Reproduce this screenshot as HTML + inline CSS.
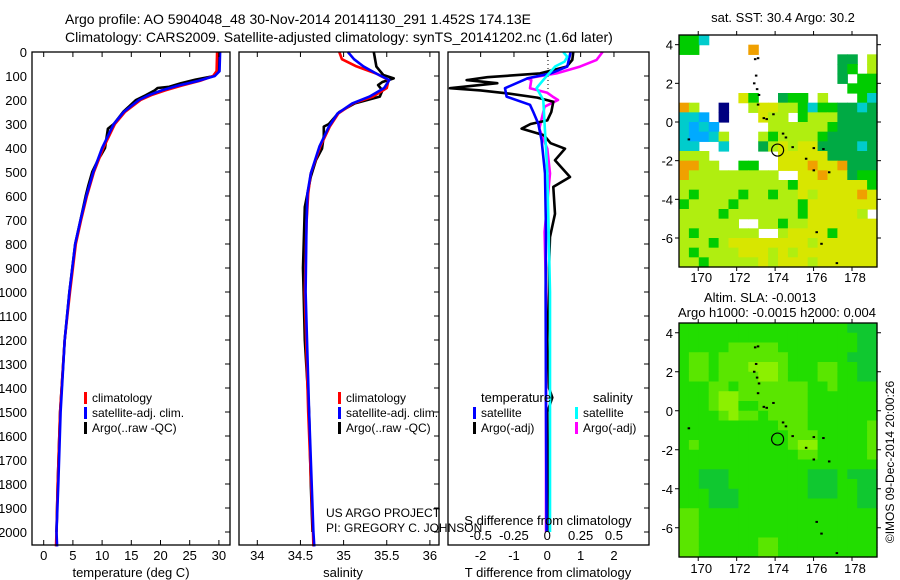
<!DOCTYPE html>
<html><head><meta charset="utf-8">
<style>
html,body{margin:0;padding:0;background:#fff;}
svg{display:block;font-family:"Liberation Sans",sans-serif;}
text{fill:#000;}
</style></head>
<body>
<svg id="chart" width="900" height="580" viewBox="0 0 900 580" xmlns="http://www.w3.org/2000/svg">
<text x="65" y="24" font-size="14">Argo profile: AO 5904048_48 30-Nov-2014 20141130_291 1.452S 174.13E</text>
<text x="65" y="42" font-size="14">Climatology: CARS2009. Satellite-adjusted climatology: synTS_20141202.nc (1.6d later)</text>
<g id="p1"></g>
<g id="p2"></g>
<g id="p3"></g>
<g id="m1"></g>
<g id="m2"></g>
<text x="783" y="22" font-size="13" text-anchor="middle">sat. SST: 30.4  Argo: 30.2</text>
<text x="760" y="302" font-size="13" text-anchor="middle">Altim. SLA: -0.0013</text>
<text x="777" y="317" font-size="13" text-anchor="middle">Argo h1000: -0.0015 h2000: 0.004</text>
<text transform="translate(894,462) rotate(-90)" font-size="12" text-anchor="middle">©IMOS 09-Dec-2014 20:00:26</text>
<text x="326" y="517" font-size="12">US ARGO PROJECT</text>
<text x="326" y="532" font-size="12">PI: GREGORY C. JOHNSON</text>
</svg>
<script>
// ---------- profile data ----------
const tClimDepth=[0,80,100,120,140,160,180,200,250,300,400,500,600,700,800,900,1000,1200,1500,1800,2000,2060];
const tClimVal=[29.7,29.6,29.0,26.8,23.6,20.8,18.4,16.6,13.9,12.2,10.2,8.6,7.4,6.4,5.5,5.0,4.5,3.6,2.8,2.4,2.2,2.1];
const tSatVal=[30.2,30.1,29.3,26.5,23.0,20.2,18.0,16.3,13.7,12.0,10.0,8.5,7.3,6.3,5.4,4.9,4.4,3.6,2.9,2.5,2.2,2.3];
const tArgoDepth=[0,80,100,115,130,145,150,160,180,200,250,300,320,350,400,430,450,500,560,600,700,800,900,1000,1200,1500,1800,2000];
const tArgoVal=[30.0,29.9,29.2,26.0,23.5,21.5,19.5,19.0,17.5,15.8,13.6,12.0,11.0,10.8,10.5,9.8,9.3,8.3,7.6,7.2,6.3,5.4,4.9,4.4,3.6,2.8,2.4,2.2];
const sClimDepth=[0,30,60,90,117,150,186,214,256,311,394,506,590,715,1000,1500,2000,2060];
const sClimVal=[34.95,34.98,35.15,35.38,35.52,35.5,35.34,35.11,34.94,34.84,34.73,34.62,34.59,34.57,34.55,34.59,34.645,34.65];
const sSatVal=[35.05,35.12,35.23,35.38,35.53,35.47,35.3,35.1,34.93,34.83,34.72,34.62,34.58,34.57,34.56,34.6,34.65,34.66];
const sArgoDepth=[0,61,96,110,125,138,160,186,214,250,300,311,350,403,450,520,646,900,1200,1500,1800,2000];
const sArgoVal=[35.35,35.38,35.46,35.58,35.45,35.4,35.45,35.42,35.13,34.95,34.83,34.77,34.77,34.75,34.68,34.62,34.55,34.53,34.55,34.6,34.62,34.64];
const dTArgoDepth=[0,33,61,89,105,117,130,151,160,172,190,207,250,285,300,319,347,380,403,451,521,562,674,771,900,1000,1200,1400,1440,1480,1500,1700,2000];
const dTArgoVal=[0.78,0.75,0.58,-0.22,-1.8,-2.42,-1.5,-2.92,-2.0,-1.22,-0.3,0.18,0.12,0.0,-0.5,-0.77,-0.1,0.1,0.53,0.23,0.68,0.18,0.23,0.08,0.05,0.05,0.0,0.05,0.15,0.05,0.0,0.02,0.0];
const dTSatDepth=[0,61,89,110,151,186,220,250,299,368,506,750,1000,1500,2000];
const dTSatVal=[0.7,0.6,0.1,-0.6,-1.27,-1.22,-0.52,-0.42,-0.27,-0.17,-0.07,-0.04,-0.05,-0.04,-0.02];
const dSArgoDepth=[0,33,61,89,110,117,151,170,186,200,228,319,403,506,750,1000,1500,2000];
const dSArgoVal=[0.415,0.37,0.245,0.07,-0.15,-0.12,-0.13,0.0,0.04,0.08,-0.02,-0.06,0.0,0.02,-0.02,-0.01,-0.01,-0.01];
const dSSatDepth=[0,20,40,60,110,150,200,300,500,1000,1500,2000];
const dSSatVal=[0.12,0.15,0.13,0.06,-0.02,-0.08,-0.03,-0.02,0.0,0.02,0.02,0.02];
const depthTicks=[0,100,200,300,400,500,600,700,800,900,1000,1100,1200,1300,1400,1500,1600,1700,1800,1900,2000];
const tTicks=[0,5,10,15,20,25,30];
const sTicks=[34,34.5,35,35.5,36];
const dTTicks=[-2,-1,0,1,2];
const dSTicks=[-0.5,-0.25,0,0.25,0.5];
const dSTickLabels=["-0.5","-0.25","0","0.25","0.5"];
// ---------- map data ----------
const sstRows=[
"ggc.................",
"gg.....o............",
"................GG.y",
"................Gg.y",
"................G.gg",
".................ggg",
"......Yg..Ggg.y...gc",
"oy..n..yYYyygcggGGcG",
"ccb.n...Yyy.gyyyGGGG",
"cbcb.....yyyyyygGGGG",
"cbbcy...ygyyyygGGGGG",
"cc..c...GyYyYYGGGGcG",
"yyy.......YYYYYGGGGG",
"ooyy..gg..YYYoYYoGGG",
"oyyyyyyyyy..YYoYYGgg",
"yyyyyyyyyyygYYYYYYYg",
"ygyyyygyygyyYyYYYYoY",
"gyyyygyyyyyygYYYYYYY",
"yyyygyyyyyyygYYYYYy.",
"yyyyyy..yygyyYYYYYYY",
"ygyyyyyy..yYYYYgYYYY",
"yyygyYYYYYYYYyYYYYYY",
"ygyyyyYYYyYyYYYYYYYY",
"yygyyyyyYyYYYyYYYYYY"];
const slaRows=[
"11111111111111111000",
"11111111111111111100",
"11111222221111111100",
"12212222222111111000",
"12212223332111221100",
"12212222332111221100",
"11122122222221121111",
"11123322222221111111",
"11123311222221111111",
"11112322122221111111",
"11111111112221111112",
"11111111111222111112",
"12111111111233111112",
"11111111111122111112",
"11111111111111111111",
"11000111111110001000",
"11000111111110001100",
"11100011111110001100",
"11100011111111111100",
"22111111111111111111",
"22111111111111111111",
"22111111111111111111",
"22111111221111111111",
"22111111221111111111"];
const mapLonTicks=[170,172,174,176,178];
const mapLatTicks=[4,2,0,-2,-4,-6];
const argoLon=174.13, argoLat=-1.452;
const islandLon=[172.95,173.1,172.9,173.05,173.15,173.1,173.4,173.55,173.9,174.4,174.55,174.9,175.6,176.0,176.5,176.8,176.0,176.15,177.2,176.4,169.5,173.0];
const islandLat=[3.25,3.3,2.0,1.7,1.4,0.9,0.2,0.15,0.4,-0.6,-0.8,-1.3,-1.9,-1.35,-1.4,-2.6,-2.5,-5.7,-7.3,-6.3,-0.9,2.4];
</script>
<script>
const NS="http://www.w3.org/2000/svg";
const svg=document.getElementById('chart');
function mk(tag,attrs,parent){const e=document.createElementNS(NS,tag);for(const k in attrs)e.setAttribute(k,attrs[k]);(parent||svg).appendChild(e);return e;}
const yD=d=>52+d*0.24;
function line(g,depths,vals,xf,color,name){
  const pts=depths.map((d,i)=>xf(vals[i]).toFixed(1)+","+yD(d).toFixed(1)).join(" ");
  const p=mk('polyline',{points:pts,fill:'none',stroke:color,'stroke-width':2.6,'stroke-linejoin':'round'},g);
  
  
}
function frame(g,x0,x1,name){
  const r=mk('rect',{x:x0,y:52,width:x1-x0,height:493,fill:'none',stroke:'#000','stroke-width':1.3},g);
  
  
  depthTicks.forEach(d=>{mk('line',{x1:x1-5,x2:x1,y1:yD(d),y2:yD(d),stroke:'#000'},g);});
}
function xticks(g,ticks,labels,xf,ly,top,bottom){
  ticks.forEach((t,i)=>{
    const x=xf(t);
    if(top) mk('line',{x1:x,x2:x,y1:52,y2:57,stroke:'#000'},g);
    if(bottom) mk('line',{x1:x,x2:x,y1:540,y2:545,stroke:'#000'},g);
    const tx=mk('text',{x:x,y:ly,'font-size':13,'text-anchor':'middle'},g);
    tx.textContent=labels[i];
    
    
  });
}
function legendEntry(g,x,y,color,label){
  mk('rect',{x:x,y:y-10,width:3,height:12,fill:color},g);
  const t=mk('text',{x:x+8,y:y,'font-size':12},g);
  t.textContent=label;
  
  
}
function label(g,x,y,txt,name,anchor){
  const t=mk('text',{x:x,y:y,'font-size':13,'text-anchor':anchor||'middle'},g);
  t.textContent=txt;
  
  
}
// Panel 1
const g1=document.getElementById('p1');
const xT=t=>43.7+t*5.84;
line(g1,tArgoDepth,tArgoVal,xT,'#000','argo-temperature-line');
line(g1,tClimDepth,tClimVal,xT,'#f00','climatology-temperature-line');
line(g1,tClimDepth,tSatVal,xT,'#00f','satellite-temperature-line');
frame(g1,32,230,'temperature-axes');
xticks(g1,tTicks,tTicks.map(String),xT,560,true,true);
depthTicks.forEach(d=>{const t=mk('text',{x:27,y:yD(d)+5,'font-size':13,'text-anchor':'end'},g1);t.textContent=d;
  
  });
label(g1,131,577,'temperature (deg C)','temperature-axis-title');
legendEntry(g1,84,402,'#f00','climatology');
legendEntry(g1,84,417,'#00f','satellite-adj. clim.');
legendEntry(g1,84,432,'#000','Argo(..raw -QC)');
// Panel 2
const g2=document.getElementById('p2');
const xS=s=>257.3+(s-34)*86.3;
line(g2,sArgoDepth,sArgoVal,xS,'#000','argo-salinity-line');
line(g2,sClimDepth,sClimVal,xS,'#f00','climatology-salinity-line');
line(g2,sClimDepth,sSatVal,xS,'#00f','satellite-salinity-line');
frame(g2,239,439,'salinity-axes');
xticks(g2,sTicks,["34","34.5","35","35.5","36"],xS,560,true,true);
label(g2,343,577,'salinity','salinity-axis-title');
legendEntry(g2,338,402,'#f00','climatology');
legendEntry(g2,338,417,'#00f','satellite-adj. clim.');
legendEntry(g2,338,432,'#000','Argo(..raw -QC)');
// Panel 3
const g3=document.getElementById('p3');
const xdT=v=>547.3+v*33.33, xdS=v=>547.3+v*133.3;
mk('line',{x1:548,x2:548,y1:52,y2:90,stroke:'#000','stroke-dasharray':'1,3'},g3);
line(g3,dSArgoDepth,dSArgoVal,xdS,'#f0f','argo-salinity-diff-line');
line(g3,dTArgoDepth,dTArgoVal,xdT,'#000','argo-temperature-diff-line');
line(g3,dTSatDepth,dTSatVal,xdT,'#00f','satellite-temperature-diff-line');
line(g3,dSSatDepth,dSSatVal,xdS,'#0ff','satellite-salinity-diff-line');
frame(g3,448,649,'difference-axes');
xticks(g3,dTTicks,dTTicks.map(String),xdT,560,true,false);
xticks(g3,dSTicks,dSTickLabels,xdS,540,false,false);
label(g3,548,525,'S difference from climatology','s-diff-axis-title');
label(g3,548,577,'T difference from climatology','t-diff-axis-title');
label(g3,481,402,'temperature','legend-heading-temperature','start');
label(g3,593,402,'salinity','legend-heading-salinity','start');
legendEntry(g3,473,417,'#00f','satellite');
legendEntry(g3,473,432,'#000','Argo(-adj)');
legendEntry(g3,575,417,'#0ff','satellite');
legendEntry(g3,575,432,'#f0f','Argo(-adj)');
// Maps
const sstColors={g:'#00cc00',G:'#00aa44',y:'#b0ee10',Y:'#d8e600',o:'#f0a000',c:'#00cccc',b:'#00aaff',n:'#000080'};
const slaColors={'0':'#10c830','1':'#22dd00','2':'#5ae600','3':'#8cf000'};
function drawMap(g,rows,colors,x0,y0,w,h,lblY,name){
  const nr=rows.length,nc=rows[0].length,cw=w/nc,ch=h/nr;
  rows.forEach((row,r)=>{[...row].forEach((c,k)=>{
    if(!colors[c])return;
    const cell=mk('rect',{x:(x0+k*cw).toFixed(2),y:(y0+r*ch).toFixed(2),width:(cw+0.6).toFixed(2),height:(ch+0.6).toFixed(2),fill:colors[c]},g);
    
    
  });});
  const lonX=lon=>x0+(lon-169)*w/10.3, latY=lat=>y0+(4.5-lat)*h/12;
  islandLon.forEach((lo,i)=>{mk('rect',{x:lonX(lo)-1,y:latY(islandLat[i])-1,width:2.5,height:2,fill:'#000'},g);});
  const c=mk('circle',{cx:lonX(argoLon),cy:latY(argoLat),r:6,fill:'none',stroke:'#000','stroke-width':1.2},g);
  
  
  const fr=mk('rect',{x:x0,y:y0,width:w,height:h,fill:'none',stroke:'#000','stroke-width':1.3},g);
  
  
  mapLonTicks.forEach(lo=>{const x=lonX(lo);
    mk('line',{x1:x,x2:x,y1:y0,y2:y0-4,stroke:'#000'},g);
    mk('line',{x1:x,x2:x,y1:y0+h,y2:y0+h+4,stroke:'#000'},g);
    const t=mk('text',{x:x+3,y:lblY,'font-size':13,'text-anchor':'middle'},g);t.textContent=lo;
    
    });
  mapLatTicks.forEach(la=>{const y=latY(la);
    mk('line',{x1:x0+w,x2:x0+w+4,y1:y,y2:y,stroke:'#000'},g);
    mk('line',{x1:x0,x2:x0-4,y1:y,y2:y,stroke:'#000'},g);
    const t=mk('text',{x:673,y:y+5,'font-size':13,'text-anchor':'end'},g);t.textContent=la;
    
    });
}
drawMap(document.getElementById('m1'),sstRows,sstColors,679,35,198,232,282,'sst-map');
drawMap(document.getElementById('m2'),slaRows,slaColors,679,323,198,234,573,'sla-map');
</script>
</body></html>
